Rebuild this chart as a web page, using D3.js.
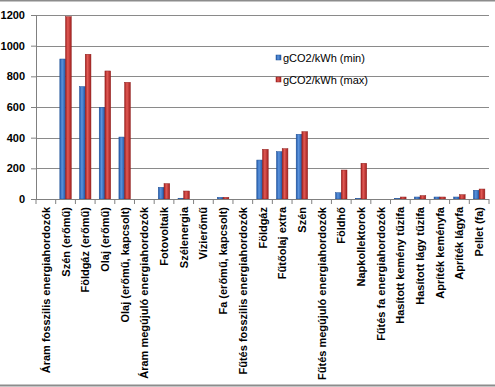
<!DOCTYPE html>
<html lang="hu">
<head>
    <meta charset="UTF-8">
    <title>gCO2/kWh</title>
    <script src="https://cdn.jsdelivr.net/npm/d3@7"></script>
    <style>
        body { margin: 0; background: #fff; }
        text { font-family: "Liberation Sans", Arial, sans-serif; fill: #000; }
    </style>
</head>
<body>
<svg width="495" height="387"></svg>

<script>

    var categories = [
        "Áram fosszilis energiahordozók", "Szén (erőmű)", "Földgáz (erőmű)", "Olaj (erőmű)",
        "Olaj (erőmű, kapcsolt)", "Áram megújuló energiahordozók", "Fotovoltaik", "Szélenergia",
        "Vízierőmű", "Fa (erőmű, kapcsolt)", "Fűtés fosszilis energiahordozók", "Földgáz",
        "Fűtőolaj extra", "Szén", "Fűtés megújuló energiahordozók", "Földhő", "Napkollektorok",
        "Fűtés fa energiahordozók", "Hasított kemény tűzifa", "Hasított lágy tűzifa",
        "Apríték keményfa", "Apríték lágyfa", "Pellet (fa)"
    ];
    var minValues = [0, 913, 733, 598, 404, 0, 76, 5, 0, 11, 0, 254, 309, 422, 0, 41, 4, 0, 4, 13, 13, 13, 57];
    var maxValues = [0, 1189, 944, 835, 761, 0, 100, 52, 0, 11, 0, 324, 328, 439, 0, 189, 233, 0, 13, 22, 13, 28, 65];
    var seriesNames = ["gCO2/kWh (min)", "gCO2/kWh (max)"];
    var yTicks = [0, 200, 400, 600, 800, 1000, 1200];

    var svg = d3.select("svg"),
        width = +svg.attr("width"),
        height = +svg.attr("height");

    var plotLeft = 36, plotRight = 489, plotTop = 15, plotBottom = 199;

    // frame lines top and bottom
    svg.append("line").attr("x1", 0).attr("x2", width).attr("y1", 0.5).attr("y2", 0.5)
        .style("stroke", "#8c8c8c").style("stroke-width", 2);
    svg.append("line").attr("x1", 0).attr("x2", width).attr("y1", 385.5).attr("y2", 385.5)
        .style("stroke", "#8c8c8c").style("stroke-width", 2);

    var x0 = d3.scaleBand().domain(categories).range([plotLeft, plotRight])
        .paddingInner(0.42).paddingOuter(0.21);
    var x1 = d3.scaleBand().domain([0, 1]).range([0, x0.bandwidth()]);
    var y = d3.scaleLinear().domain([0, 1200]).range([plotBottom, plotTop]);

    var defs = svg.append("defs");
    function grad(id, dark, light) {
        var g = defs.append("linearGradient").attr("id", id)
            .attr("x1", "0%").attr("x2", "100%").attr("y1", "0%").attr("y2", "0%");
        g.append("stop").attr("offset", "0%").attr("stop-color", dark);
        g.append("stop").attr("offset", "40%").attr("stop-color", light);
        g.append("stop").attr("offset", "100%").attr("stop-color", dark);
    }
    grad("gBlue", "#1f57a8", "#5b93dc");
    grad("gRed", "#a3201f", "#e05a55");
    var fills = ["url(#gBlue)", "url(#gRed)"];
    var strokes = ["#1e4f95", "#8e1e1c"];

    // gridlines
    svg.append("g").selectAll("line")
        .data(yTicks.slice(1))
        .enter().append("line")
        .attr("x1", plotLeft).attr("x2", plotRight)
        .attr("y1", function (d) { return Math.round(y(d)) + 0.5; })
        .attr("y2", function (d) { return Math.round(y(d)) + 0.5; })
        .style("stroke", "#8a8a8a").style("stroke-width", 1);

    // bars
    var series = [minValues, maxValues];
    var groups = svg.append("g").selectAll("g")
        .data(categories)
        .enter().append("g")
        .attr("transform", function (d) { return "translate(" + x0(d) + ",0)"; });

    groups.selectAll("rect")
        .data(function (d, i) { return [0, 1].map(function (s) { return {s: s, v: series[s][i]}; }); })
        .enter().append("rect")
        .filter(function (d) { return d.v > 0; })
        .attr("x", function (d) { return x1(d.s); })
        .attr("width", x1.bandwidth())
        .attr("y", function (d) { return y(d.v); })
        .attr("height", function (d) { return plotBottom - y(d.v); })
        .attr("fill", function (d) { return fills[d.s]; })
        .style("stroke", function (d) { return strokes[d.s]; })
        .style("stroke-width", 0.5);

    // y axis
    var yAxis = svg.append("g")
        .attr("transform", "translate(" + plotLeft + ",0)")
        .call(d3.axisLeft(y).tickValues(yTicks).tickFormat(d3.format("d")).tickSize(5).tickPadding(6));
    yAxis.select(".domain").style("stroke", "#808080");
    yAxis.selectAll(".tick line").style("stroke", "#808080");
    yAxis.selectAll("text").style("font-size", "11px").style("font-weight", "bold")
        .style("font-family", "'Liberation Sans', Arial, sans-serif");

    // x axis
    var xAxisG = svg.append("g").attr("transform", "translate(0," + plotBottom + ")");
    xAxisG.append("line").attr("x1", plotLeft).attr("x2", plotRight).attr("y1", 0.5).attr("y2", 0.5)
        .style("stroke", "#808080");
    xAxisG.selectAll("line.tk")
        .data(d3.range(categories.length + 1))
        .enter().append("line").attr("class", "tk")
        .attr("x1", function (i) { return plotLeft + i * x0.step(); })
        .attr("x2", function (i) { return plotLeft + i * x0.step(); })
        .attr("y1", 0).attr("y2", 5)
        .style("stroke", "#808080");
    xAxisG.selectAll("text")
        .data(categories)
        .enter().append("text")
        .attr("transform", function (d) {
            return "translate(" + (x0(d) + x0.bandwidth() / 2 + 4) + ",8) rotate(-90)";
        })
        .attr("text-anchor", "end")
        .style("font-size", "11px")
        .style("font-weight", "bold")
        .text(function (d) { return d; });

    // legend
    var legend = svg.append("g").selectAll("g")
        .data(seriesNames)
        .enter().append("g")
        .attr("transform", function (d, i) { return "translate(276," + (58 + i * 22) + ")"; });
    legend.append("rect")
        .attr("x", 0).attr("y", -3).attr("width", 5).attr("height", 5)
        .attr("fill", function (d, i) { return fills[i]; })
        .style("stroke", function (d, i) { return strokes[i]; })
        .style("stroke-width", 0.5);
    legend.append("text")
        .attr("x", 7).attr("y", 4)
        .style("font-size", "11px")
        .text(function (d) { return d; });

</script>
</body>
</html>
